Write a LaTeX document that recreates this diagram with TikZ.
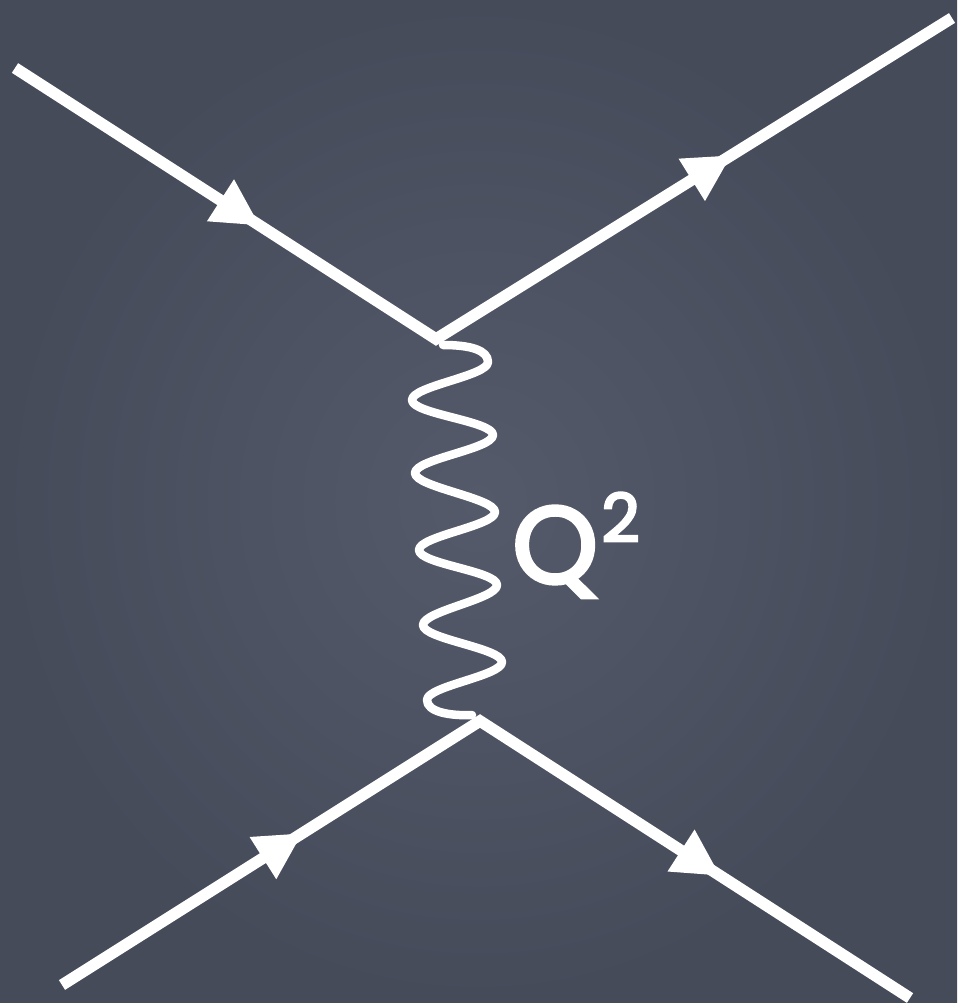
\documentclass[tikz,border=0pt]{standalone}
\usepackage{fontspec}
\setmainfont{Poppins}
\newfontfamily\qfont{Poppins}[FakeBold=3.5]
\usetikzlibrary{arrows.meta,decorations.markings}
\definecolor{board}{RGB}{70,75,90}
\definecolor{boardlight}{RGB}{84,90,106}
\tikzset{
  fermion/.style 2 args={line width=0.23cm, white, line join=miter,
    postaction={decorate, decoration={markings,
      mark=at position #1 with {\arrow{Triangle[length=0.92cm,width=1.0cm,line width=0pt]}},
      mark=at position #2 with {\arrow{Triangle[length=0.92cm,width=1.0cm,line width=0pt]}}}}},
  photon/.style={line width=0.17cm, white, line cap=round, line join=round},
  label/.style={white, inner sep=0pt, anchor=base west}
}
\begin{document}
\begin{tikzpicture}[x=0.02cm,y=-0.02cm]
  \shade[inner color=boardlight, outer color=board] (0,0) rectangle (957,1003);
  \useasboundingbox (0,0) rectangle (957,1003);
  % vertices and free ends
  \coordinate (a1) at (15,68);
  \coordinate (v1) at (436,339);
  \coordinate (b1) at (952,18);
  \coordinate (a2) at (62,985);
  \coordinate (v2) at (480,721);
  \coordinate (b2) at (910,998);
  \coordinate (p1) at (443,345);
  \coordinate (p2) at (472,715);
  % fermion lines
  \draw[fermion={0.262}{0.765}] (a1) -- (v1) -- (b1);
  \draw[fermion={0.282}{0.775}] (a2) -- (v2) -- (b2);
  % photon
  \draw[photon] (p1)
    .. controls (470,345) and (488,350) .. (488,362)
    .. controls (488,376) and (412,386) .. (412,400)
    .. controls (412,414) and (493,421) .. (493,435)
    .. controls (493,449) and (415,459) .. (415,473)
    .. controls (415,487) and (495,498) .. (495,512)
    .. controls (495,526) and (419,536) .. (419,550)
    .. controls (419,564) and (497,571) .. (497,585)
    .. controls (497,599) and (423,611) .. (423,625)
    .. controls (423,639) and (502,648) .. (502,662)
    .. controls (502,676) and (427,686) .. (427,700)
    .. controls (427,712) and (450,716) .. (p2);
  % label
  \node[label] (q2) at (512,583) {\qfont\fontsize{62}{62}\selectfont Q\kern0.03em\raisebox{0.38em}{\fontsize{38}{38}\selectfont 2}};
\end{tikzpicture}
\end{document}
